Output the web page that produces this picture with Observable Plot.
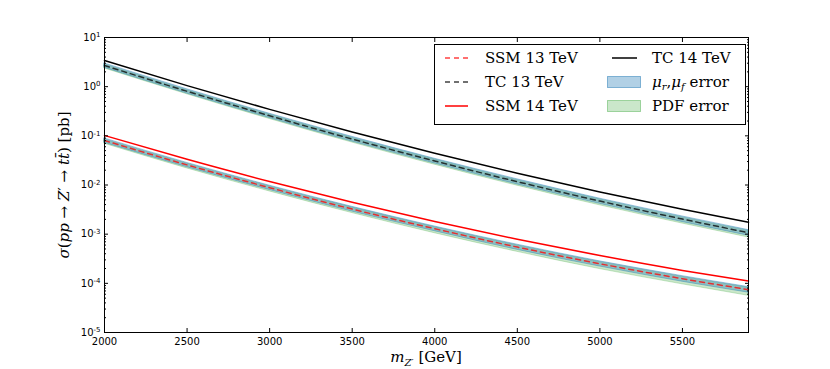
<!DOCTYPE html>
<html>
<head>
<meta charset="utf-8">
<script src="https://cdn.jsdelivr.net/npm/d3@7"></script>
<script src="https://cdn.jsdelivr.net/npm/@observablehq/plot@0.6"></script>
<style>
  html, body { margin: 0; padding: 0; background: #fff; }
</style>
</head>
<body>
<div id="chart"></div>
<script>
// ---- data ----
const masses = [2000, 2500, 3000, 3500, 4000, 4500, 5000, 5500, 5900];
const tc14  = [3.40, 1.05, 0.345, 0.120, 0.0444, 0.0174, 0.00724, 0.00321, 0.00174];
const tc13  = [2.70, 0.805, 0.256, 0.0859, 0.0308, 0.01167, 0.00471, 0.00203, 0.00107];
const ssm14 = [0.1016, 0.0333, 0.01178, 0.00445, 0.00181, 0.000787, 0.000367, 0.000183, 0.000111];
const ssm13 = [0.0804, 0.0256, 0.00881, 0.00324, 0.00129, 0.000546, 0.000250, 0.000124, 0.0000743];
// relative errors in percent
const scaleErrUp = [10, 10, 10, 11, 11, 12, 12, 13, 13];
const scaleErrDn = [10, 10, 10, 11, 11, 12, 12, 13, 13];
const tcPdfUp  = [5, 5, 6, 6, 7, 7, 8, 8, 9];
const tcPdfDn  = [13, 13, 14, 15, 16, 17, 18, 19, 20];
const ssmPdfUp = [5, 6, 6, 7, 7, 8, 8, 9, 9];
const ssmPdfDn = [14, 15, 16, 17, 19, 20, 22, 23, 25];

const xTicks = [2000, 2500, 3000, 3500, 4000, 4500, 5000, 5500];
const yMajor = [1e-5, 1e-4, 1e-3, 1e-2, 1e-1, 1e0, 1e1];
const yMinor = [];
for (let e = -5; e < 1; e++) for (let k = 2; k <= 9; k++) yMinor.push(k * Math.pow(10, e));

const legendLabels = ["SSM 13 TeV", "TC 13 TeV", "SSM 14 TeV", "TC 14 TeV", "μr,μf error", "PDF error"];

// ---- tables ----
const rows = (vals) => masses.map((m, i) => ({m, v: vals[i]}));
const band = (vals, up, dn) => masses.map((m, i) => ({m, lo: vals[i] * (1 - dn[i] / 100), hi: vals[i] * (1 + up[i] / 100)}));

const green = "#2ca02c", blue = "#1f77b4";
const curve = "monotone-x";

const plot = Plot.plot({
  width: 830, height: 369,
  marginLeft: 104, marginRight: 82, marginTop: 37, marginBottom: 37,
  style: {fontFamily: "DejaVu Sans", fontSize: "10px", background: "#fff", color: "#000"},
  x: {domain: [2000, 5900]},
  y: {type: "log", domain: [1e-5, 10]},
  marks: [
    // PDF error bands
    Plot.areaY(band(tc13, tcPdfUp, tcPdfDn), {x: "m", y1: "lo", y2: "hi", fill: green, fillOpacity: 0.25, stroke: green, strokeOpacity: 0.25, curve}),
    Plot.areaY(band(ssm13, ssmPdfUp, ssmPdfDn), {x: "m", y1: "lo", y2: "hi", fill: green, fillOpacity: 0.25, stroke: green, strokeOpacity: 0.25, curve}),
    // scale error bands
    Plot.areaY(band(tc13, scaleErrUp, scaleErrDn), {x: "m", y1: "lo", y2: "hi", fill: blue, fillOpacity: 0.35, stroke: blue, strokeOpacity: 0.4, curve}),
    Plot.areaY(band(ssm13, scaleErrUp, scaleErrDn), {x: "m", y1: "lo", y2: "hi", fill: blue, fillOpacity: 0.35, stroke: blue, strokeOpacity: 0.4, curve}),
    // central lines
    Plot.lineY(rows(tc14), {x: "m", y: "v", stroke: "#000", strokeWidth: 1.5, curve}),
    Plot.lineY(rows(ssm14), {x: "m", y: "v", stroke: "#ff0000", strokeWidth: 1.5, curve}),
    Plot.lineY(rows(tc13), {x: "m", y: "v", stroke: "#000", strokeOpacity: 0.75, strokeWidth: 1.5, strokeDasharray: "5,4", curve}),
    Plot.lineY(rows(ssm13), {x: "m", y: "v", stroke: "#ff0000", strokeOpacity: 0.75, strokeWidth: 1.5, strokeDasharray: "5,4", curve}),
    // axes: labels
    Plot.axisX({anchor: "bottom", ticks: xTicks, tickSize: 0, tickPadding: 5, tickFormat: d => String(d), label: null}),
    Plot.axisY({anchor: "left", ticks: yMajor, tickSize: 0, tickPadding: 4, tickFormat: d => "10|" + Math.round(Math.log10(d)), label: null}),
    // inward ticks on all sides
    Plot.axisX({anchor: "bottom", ticks: xTicks, tickSize: -4, tickFormat: () => "", label: null}),
    Plot.axisX({anchor: "top", ticks: xTicks, tickSize: -4, tickFormat: () => "", label: null}),
    Plot.axisY({anchor: "left", ticks: yMajor, tickSize: -4, tickFormat: () => "", label: null}),
    Plot.axisY({anchor: "right", ticks: yMajor, tickSize: -4, tickFormat: () => "", label: null}),
    Plot.axisY({anchor: "left", ticks: yMinor, tickSize: -2, tickFormat: () => "", label: null}),
    Plot.axisY({anchor: "right", ticks: yMinor, tickSize: -2, tickFormat: () => "", label: null}),
    Plot.frame({stroke: "#000", strokeWidth: 1})
  ]
});

document.getElementById("chart").appendChild(plot);
const svg = d3.select(plot);

// superscript exponents on y tick labels
svg.selectAll('g[aria-label="y-axis tick label"] text').each(function() {
  const t = d3.select(this);
  const s = t.text();
  if (!s.includes("|")) return;
  const exp = s.split("|")[1];
  t.text(null);
  t.append("tspan").text("10");
  t.append("tspan").attr("dy", "-0.5em").attr("font-size", "7px").text(exp);
});

const serif = "DejaVu Serif";
function richText(parent, parts) {
  parts.forEach(p => {
    const ts = parent.append("tspan").text(p.t);
    if (p.i) ts.attr("font-style", "italic");
    if (p.fs) ts.attr("font-size", p.fs);
    if (p.dy) ts.attr("dy", p.dy);
  });
}

// x label
const xl = svg.append("text").attr("x", 426).attr("y", 362).attr("text-anchor", "middle")
  .attr("font-family", serif).attr("font-size", "15px").attr("fill", "#000");
richText(xl, [{t: "m", i: 1}, {t: "Z′", i: 1, fs: "10px", dy: "4"}, {t: " [GeV]", dy: "-4"}]);

// y label
const yl = svg.append("text").attr("transform", "translate(69,185) rotate(-90)").attr("text-anchor", "middle")
  .attr("font-family", serif).attr("font-size", "15px").attr("fill", "#000");
richText(yl, [{t: "σ", i: 1}, {t: "("}, {t: "pp", i: 1}, {t: " → "}, {t: "Z", i: 1}, {t: "′"}, {t: " → "}, {t: "tt̄", i: 1}, {t: ") [pb]"}]);

// legend
const lg = svg.append("g").attr("font-family", serif).attr("font-size", "15px").attr("text-anchor", "start");
lg.append("rect").attr("x", 434.5).attr("y", 44.5).attr("width", 311).attr("height", 80)
  .attr("fill", "#fff").attr("stroke", "#000").attr("stroke-width", 1);
const rowsY = [58, 82, 106];
const lineEntries = [
  {col: 0, row: 0, stroke: "#ff0000", op: 0.75, dash: "5,4", label: legendLabels[0]},
  {col: 0, row: 1, stroke: "#000", op: 0.75, dash: "5,4", label: legendLabels[1]},
  {col: 0, row: 2, stroke: "#ff0000", op: 1, dash: null, label: legendLabels[2]},
  {col: 1, row: 0, stroke: "#000", op: 1, dash: null, label: legendLabels[3]}
];
const colLine = [[445, 468], [612, 637]];
const colText = [485, 652];
lineEntries.forEach(e => {
  const y = rowsY[e.row];
  lg.append("line").attr("x1", colLine[e.col][0]).attr("x2", colLine[e.col][1]).attr("y1", y).attr("y2", y)
    .attr("stroke", e.stroke).attr("stroke-opacity", e.op).attr("stroke-width", 1.5)
    .attr("stroke-dasharray", e.dash);
  lg.append("text").attr("x", colText[e.col]).attr("y", y + 5).attr("fill", "#000").text(e.label);
});
// patches
[[1, blue, 0.35], [2, green, 0.25]].forEach(([row, c, op]) => {
  const y = rowsY[row];
  lg.append("rect").attr("x", 607.5).attr("y", y - 5.5).attr("width", 33).attr("height", 11)
    .attr("fill", c).attr("fill-opacity", op).attr("stroke", c).attr("stroke-opacity", op + 0.15);
});
const mu = lg.append("text").attr("x", colText[1]).attr("y", rowsY[1] + 5).attr("fill", "#000");
richText(mu, [{t: "μ", i: 1}, {t: "r", i: 1, fs: "10px", dy: "3"}, {t: ",", dy: "-3"}, {t: "μ", i: 1}, {t: "f", i: 1, fs: "10px", dy: "3"}, {t: " error", dy: "-3"}]);
lg.append("text").attr("x", colText[1]).attr("y", rowsY[2] + 5).attr("fill", "#000").text(legendLabels[5]);
</script>
</body>
</html>
